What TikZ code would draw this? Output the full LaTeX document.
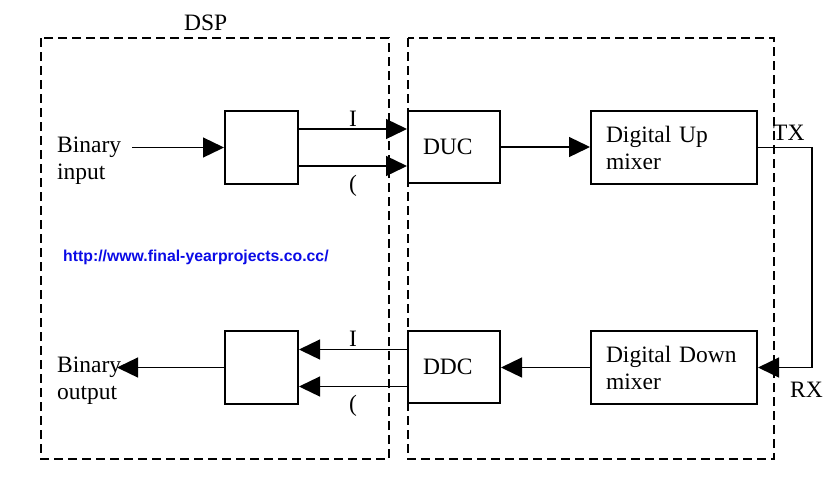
\documentclass[tikz,border=0pt]{standalone}
\usepackage{fontspec}
\setmainfont{Liberation Serif}
\newfontfamily\urlfont{Liberation Sans}
\usetikzlibrary{arrows.meta}
\definecolor{urlblue}{RGB}{10,10,230}
\tikzset{
  blk/.style={draw, line width=2pt, align=left, inner xsep=15pt, inner ysep=0pt},
  arr/.style={line width=1.3pt, -{Triangle[length=21pt,width=20pt]}},
  dashbox/.style={line width=1.8pt, dash pattern=on 9pt off 5pt},
  lbl/.style={inner sep=0pt, anchor=base west},
}
\begin{document}
\begin{tikzpicture}[x=1pt,y=-1pt,font=\fontsize{23.5pt}{27pt}\selectfont]
\useasboundingbox (0,0) rectangle (840,499);
% dashed regions
\draw[dashbox] (41,38) rectangle (389,459);
\draw[dashbox] (408,38) rectangle (774,459);
\node[lbl] (dsp) at (184,30.7) {DSP};
% blocks
\node[blk, minimum width=73pt, minimum height=73pt] (enc) at (261.5,147.5) {};
\node[blk, minimum width=73pt, minimum height=73pt] (dec) at (261.5,367.5) {};
\node[blk, text width=62pt, minimum height=72pt] (duc) at (454,147) {DUC};
\node[blk, text width=62pt, minimum height=72pt] (ddc) at (454,367) {DDC};
\node[blk, text width=136pt, minimum height=73pt] (upm) at (674,147.5) {Digital Up\\mixer};
\node[blk, text width=136pt, minimum height=73pt] (dnm) at (674,367.5) {Digital Down\\mixer};
% labels
\node[inner sep=0pt, anchor=north west, align=left] (bin) at (57,137) {Binary\\input};
\node[inner sep=0pt, anchor=north west, align=left] (bout) at (57,357) {Binary\\output};
\node[lbl] (tx) at (773,140.7) {TX};
\node[lbl] (rx) at (790,397.7) {RX};
\node[inner sep=0pt, anchor=base] (iu) at (353,126) {I};
\node[inner sep=0pt, anchor=base] (qu) at (353,191) {(};
\node[inner sep=0pt, anchor=base] (il) at (353,346.7) {I};
\node[inner sep=0pt, anchor=base] (ql) at (353,411) {(};
\node[inner sep=0pt, anchor=west, text=urlblue, font=\urlfont\bfseries\fontsize{15.8pt}{18pt}\selectfont] (url) at (63,257) {http://www.final-yearprojects.co.cc/};
% connectors
\coordinate (binin) at (132,147.5);
\coordinate (binout) at (117,367.5);
\coordinate (rt) at (812,250);
\coordinate (eI) at ([yshift=18.5pt]enc.east);
\coordinate (eQ) at ([yshift=-18.5pt]enc.east);
\coordinate (dI) at ([yshift=17.5pt]ddc.west);
\coordinate (dQ) at ([yshift=-19.5pt]ddc.west);
\draw[arr] (binin) -- (enc.west);
\draw[arr] (eI) -- (eI -| duc.west);
\draw[arr] (eQ) -- (eQ -| duc.west);
\draw[arr] (duc.east) -- (duc.east -| upm.west);
\draw[arr] (upm.east) -| (rt) |- (dnm.east);
\draw[arr] (dnm.west) -- (dnm.west -| ddc.east);
\draw[arr] (dI) -- (dI -| dec.east);
\draw[arr] (dQ) -- (dQ -| dec.east);
\draw[arr] (dec.west) -- (binout);
\end{tikzpicture}
\end{document}
